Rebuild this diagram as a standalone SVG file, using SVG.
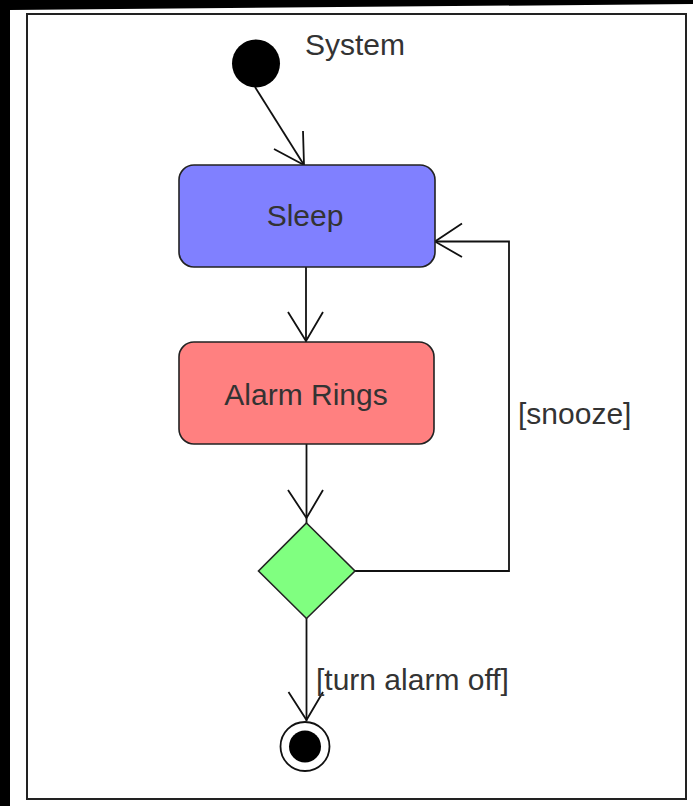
<svg xmlns="http://www.w3.org/2000/svg" width="693" height="806" viewBox="0 0 693 806">
  <style>
    .lbl { font-family: "Liberation Sans", Arial, sans-serif; font-size: 30px; fill: #333; }
    .state { stroke: #222; stroke-width: 1.6; }
    .conn { fill: none; stroke: #111; stroke-width: 1.8; }
    .head { fill: none; stroke: #111; stroke-width: 1.8; stroke-linejoin: miter; }
  </style>
  <rect x="0" y="0" width="693" height="806" fill="#fff"/>
  <polygon points="0,0 693,0 693,4 10,10 10,806 0,806" fill="#000"/>
  <rect id="frame" x="27" y="14" width="659" height="785" fill="#fff" stroke="#222" stroke-width="2"/>
  <text class="lbl" x="305" y="55">System</text>

  <g id="connectors">
    <line class="conn" x1="255" y1="87" x2="304" y2="165"/>
    <polyline class="head" points="274,149 304,165 303,131"/>
    <line class="conn" x1="306" y1="267" x2="306" y2="342"/>
    <polyline class="head" points="288,312 306,341 323,312"/>
    <line class="conn" x1="306.5" y1="444" x2="306.5" y2="523"/>
    <polyline class="head" points="288,490 306.5,518 323,490"/>
    <polyline class="conn" points="355,571 509,571 509,241.5 435,241.5"/>
    <polyline class="head" points="462,223.5 435,241.5 462,257"/>
    <line class="conn" x1="306.5" y1="618" x2="306.5" y2="721"/>
    <polyline class="head" points="288.5,692 306.5,720 323,692"/>
    <text class="lbl" x="518" y="424" fill="#444">[snooze]</text>
    <text class="lbl" x="316" y="690">[turn alarm off]</text>
  </g>

  <g id="initial">
    <circle cx="256" cy="63.5" r="24" fill="#000"/>
  </g>
  <g id="sleep">
    <rect class="state" x="179" y="165" width="256" height="102" rx="15" fill="#8080ff"/>
    <text class="lbl" x="305" y="226" text-anchor="middle">Sleep</text>
  </g>
  <g id="alarm">
    <rect class="state" x="179" y="342" width="255" height="102" rx="15" fill="#ff8080"/>
    <text class="lbl" x="306" y="405" text-anchor="middle">Alarm Rings</text>
  </g>
  <g id="decision">
    <polygon class="state" points="306.5,523 355,571 306.5,618.5 258.5,571" fill="#80ff80"/>
  </g>
  <g id="final">
    <circle cx="305" cy="746.5" r="24.5" fill="#fff" stroke="#111" stroke-width="1.8"/>
    <circle cx="305" cy="746.5" r="16" fill="#000"/>
  </g>
</svg>
